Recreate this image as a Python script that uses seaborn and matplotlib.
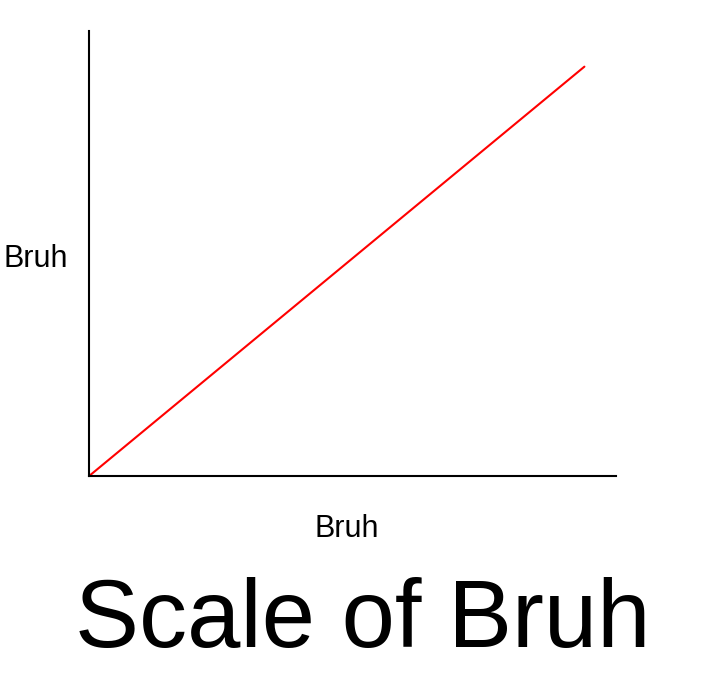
import pandas as pd
import matplotlib
matplotlib.use("Agg")
import matplotlib.pyplot as plt
import seaborn as sns

# data
bruh_x = [0, 94]
bruh_y = [0, 92]
x_label = "Bruh"
y_label = "Bruh"
title = "Scale of Bruh"

df = pd.DataFrame({"x": bruh_x, "y": bruh_y})

sns.set_style("white")
plt.rcParams["font.family"] = ["Liberation Sans", "DejaVu Sans"]
plt.rcParams["text.color"] = "black"
plt.rcParams["axes.labelcolor"] = "black"

fig = plt.figure(figsize=(7.2, 6.9), dpi=100)
ax = fig.add_axes([0.1236, 0.310, 0.732, 0.645])

sns.lineplot(data=df, x="x", y="y", color="red", linewidth=1.5, ax=ax)

ax.set_xlim(0, 100)
ax.set_ylim(0, 100)
ax.set_xticks([])
ax.set_yticks([])
sns.despine(ax=ax)
for side in ["left", "bottom"]:
    ax.spines[side].set_color("black")
    ax.spines[side].set_linewidth(1.5)

ax.set_xlabel(x_label, fontsize=22, va="baseline")
ax.set_ylabel(y_label, fontsize=22, rotation=0, va="baseline", ha="center")
ax.xaxis.set_label_coords(0.49, -0.137)
ax.yaxis.set_label_coords(-0.1006, 0.47)

fig.text(363 / 720, 1 - 647 / 690, title, fontsize=69,
         ha="center", va="baseline", color="black")

fig.savefig("out.png", dpi=100)
